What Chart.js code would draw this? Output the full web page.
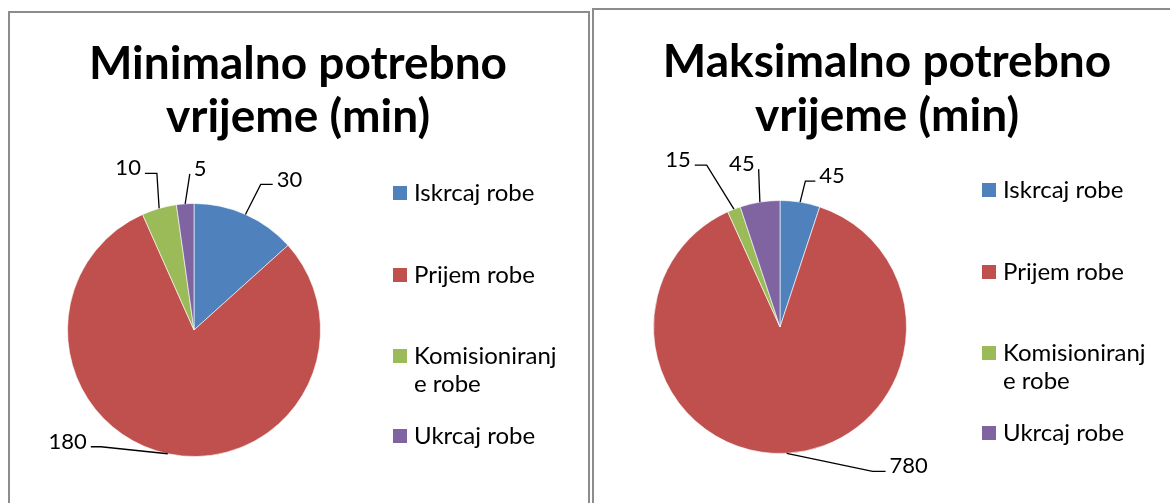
<!DOCTYPE html>
<html>
<head>
<meta charset="utf-8">
<script src="https://cdn.jsdelivr.net/npm/chart.js@4.4.0/dist/chart.umd.min.js"></script>
<style>
body{margin:0;background:#fff;width:1170px;height:503px;overflow:hidden;position:relative;font-family:Lato,sans-serif}
.box{position:absolute;border:2px solid #8c8c8c;background:#fff}
#boxMin{left:8px;top:11px;width:578px;height:500px}
#boxMax{left:592px;top:8px;width:600px;height:510px}
canvas{display:block}
</style>
</head>
<body>
<div class="box" id="boxMin"><canvas id="minChart" width="578" height="490"></canvas></div>
<div class="box" id="boxMax"><canvas id="maxChart" width="586" height="490"></canvas></div>
<script>
// podaci
const categories = ['Iskrcaj robe', 'Prijem robe', 'Komisioniranje robe', 'Ukrcaj robe'];
const legendText = [['Iskrcaj robe'], ['Prijem robe'], ['Komisioniranj', 'e robe'], ['Ukrcaj robe']];
const minValues = [30, 180, 10, 5];
const maxValues = [45, 780, 15, 45];
const minTitle = ['Minimalno potrebno', 'vrijeme (min)'];
const maxTitle = ['Maksimalno potrebno', 'vrijeme (min)'];
const colors = ['#4F81BD', '#C0504D', '#9BBB59', '#8064A2'];

// naslov, legenda i oznake s linijama
const excelLook = {
    id: 'excelLook',
    afterDraw(chart, args, opts) {
        const c = chart.ctx;
        c.save();
        c.fillStyle = '#000';
        c.textAlign = 'center';
        c.textBaseline = 'alphabetic';
        c.font = 'bold 46px Lato';
        opts.title.forEach((t, i) => c.fillText(t, chart.width / 2 + opts.titleShift, opts.titleY[i]));

        // legenda
        c.font = '24px Lato';
        c.textAlign = 'left';
        c.textBaseline = 'middle';
        legendText.forEach((lines, i) => {
            const y = opts.legendY[i];
            c.fillStyle = colors[i];
            c.fillRect(opts.legendX, y - 7, 14, 14);
            c.fillStyle = '#000';
            lines.forEach((ln, j) => c.fillText(ln, opts.legendX + 21, y + j * 28));
        });

        // oznake vrijednosti
        const meta = chart.getDatasetMeta(0);
        c.font = '22px Lato';
        c.textAlign = 'center';
        c.strokeStyle = '#000';
        c.lineWidth = 1.3;
        meta.data.forEach((arc, i) => {
            const a = (arc.startAngle + arc.endAngle) / 2;
            const ax = arc.x + Math.cos(a) * arc.outerRadius;
            const ay = arc.y + Math.sin(a) * arc.outerRadius;
            const [dx, dy, elbow] = opts.labelPos[i];
            const lx = ax + dx, ly = ay + dy;
            const txt = String(chart.data.datasets[0].data[i]);
            const w = c.measureText(txt).width;
            const s = dx >= 0 ? 1 : -1;
            const endX = lx - s * (w / 2 + 4);
            const elbX = endX - s * elbow;
            const yl = ly + 6;
            c.beginPath();
            c.moveTo(ax, ay);
            c.lineTo(elbX, yl);
            c.lineTo(endX, yl);
            c.stroke();
            c.fillText(txt, lx, ly + 1);
        });
        c.restore();
    }
};

function makePie(id, values, title, pad, look) {
    return new Chart(document.getElementById(id), {
        type: 'pie',
        data: {
            labels: categories,
            datasets: [{
                data: values,
                backgroundColor: colors,
                borderColor: 'rgba(255,255,255,0.6)',
                borderWidth: 1
            }]
        },
        options: {
            responsive: false,
            animation: false,
            layout: { padding: pad },
            plugins: {
                legend: { display: false },
                title: { display: false },
                tooltip: { enabled: false },
                excelLook: Object.assign({ title: title }, look)
            }
        },
        plugins: [excelLook]
    });
}

makePie('minChart', minValues, minTitle,
    { left: 57, top: 190, right: 267, bottom: 46 },
    {
        titleY: [66, 119], titleShift: -1,
        legendX: 383, legendY: [180, 262, 343, 423],
        labelPos: [[44, -36, 12], [-100, -13, 10], [-31, -41, 12], [15, -36, 0]]
    });

makePie('maxChart', maxValues, maxTitle,
    { left: 59, top: 190, right: 273, bottom: 46 },
    {
        titleY: [67, 121], titleShift: 0,
        legendX: 388, legendY: [180, 262, 343, 423],
        labelPos: [[32, -27, 10], [122, 12, 13], [-56, -50, 12], [-18, -39, 0]]
    });
</script>
</body>
</html>
